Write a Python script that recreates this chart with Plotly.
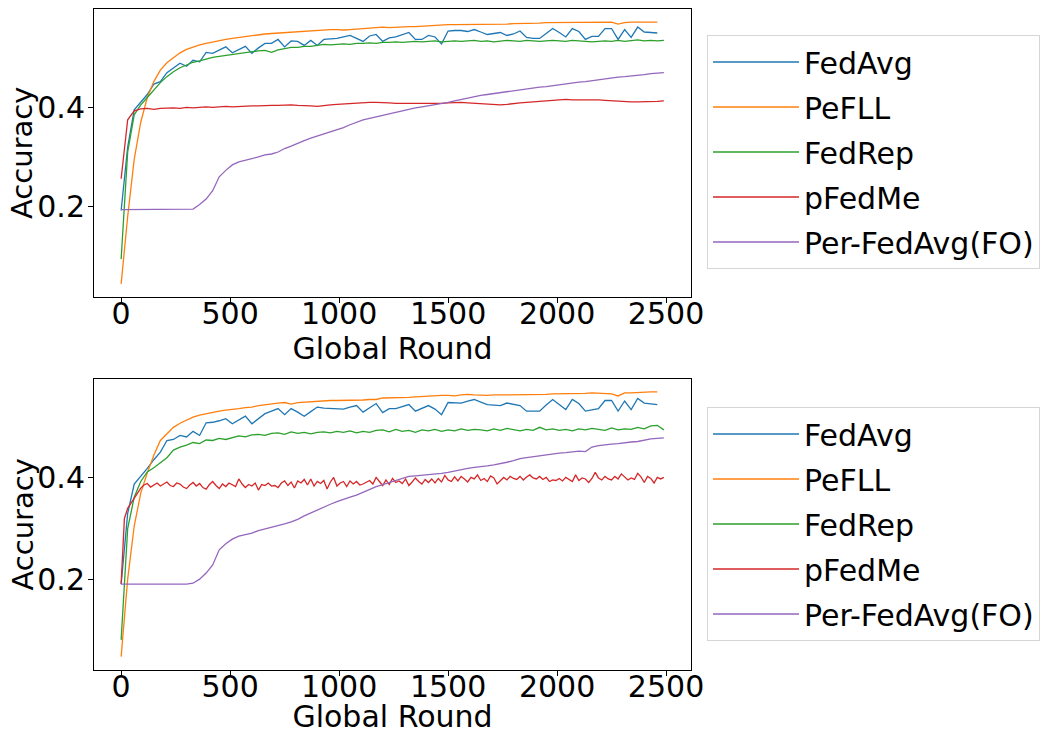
import plotly.graph_objects as go

# ---------------- data ----------------
methods = ["FedAvg", "PeFLL", "FedRep", "pFedMe", "Per-FedAvg(FO)"]
colors = ["#1f77b4", "#ff7f0e", "#2ca02c", "#d62728", "#9467bd"]

step_main = 30      # rounds between logged points
step_fine = 15      # rounds between logged points (pFedMe, bottom panel)

# ---- top panel ----
top_fedavg = [0.192, 0.32, 0.395, 0.41, 0.426, 0.447, 0.452, 0.47, 0.48, 0.489, 0.483, 0.495, 0.492, 0.511,
              0.509, 0.515, 0.522, 0.51, 0.516, 0.523, 0.509, 0.52, 0.529, 0.529, 0.537, 0.522, 0.534, 0.533,
              0.525, 0.535, 0.525, 0.537, 0.538, 0.539, 0.542, 0.545, 0.539, 0.533, 0.544, 0.547, 0.533, 0.54,
              0.542, 0.546, 0.551, 0.537, 0.537, 0.545, 0.542, 0.528, 0.554, 0.555, 0.555, 0.553, 0.557, 0.552,
              0.547, 0.549, 0.551, 0.545, 0.548, 0.554, 0.541, 0.539, 0.539, 0.549, 0.559, 0.551, 0.542, 0.559,
              0.553, 0.537, 0.543, 0.543, 0.559, 0.559, 0.537, 0.557, 0.541, 0.562, 0.552, 0.551, 0.55]
top_pefll = [0.044, 0.18, 0.295, 0.37, 0.42, 0.452, 0.475, 0.49, 0.5, 0.51, 0.517, 0.522, 0.526, 0.529, 0.532,
             0.535, 0.537, 0.539, 0.541, 0.543, 0.545, 0.546, 0.548, 0.549, 0.55, 0.551, 0.552, 0.553, 0.554,
             0.555, 0.556, 0.557, 0.557, 0.557, 0.556, 0.557, 0.558, 0.559, 0.56, 0.561, 0.562, 0.561, 0.562,
             0.563, 0.563, 0.563, 0.564, 0.565, 0.566, 0.566, 0.567, 0.567, 0.567, 0.567, 0.568, 0.567, 0.567,
             0.568, 0.568, 0.568, 0.569, 0.569, 0.569, 0.57, 0.57, 0.571, 0.571, 0.571, 0.571, 0.571, 0.571,
             0.571, 0.571, 0.571, 0.572, 0.572, 0.568, 0.571, 0.572, 0.572, 0.572, 0.572, 0.572]
top_fedrep = [0.094, 0.31, 0.385, 0.405, 0.42, 0.435, 0.45, 0.462, 0.472, 0.48, 0.486, 0.491, 0.494, 0.498,
              0.501, 0.503, 0.505, 0.507, 0.509, 0.511, 0.512, 0.514, 0.515, 0.511, 0.516, 0.518, 0.521, 0.521,
              0.523, 0.523, 0.525, 0.527, 0.526, 0.527, 0.528, 0.527, 0.529, 0.529, 0.53, 0.529, 0.531, 0.531,
              0.532, 0.531, 0.532, 0.533, 0.532, 0.533, 0.534, 0.532, 0.533, 0.534, 0.533, 0.534, 0.535, 0.533,
              0.534, 0.532, 0.534, 0.535, 0.534, 0.533, 0.535, 0.534, 0.533, 0.534, 0.535, 0.534, 0.533, 0.535,
              0.534, 0.533, 0.532, 0.533, 0.534, 0.533, 0.535, 0.533, 0.534, 0.536, 0.534, 0.535, 0.534, 0.535]
top_pfedme = [0.256, 0.375, 0.393, 0.397, 0.398, 0.396, 0.398, 0.399, 0.399, 0.398, 0.4, 0.399, 0.4, 0.401,
              0.4, 0.401, 0.402, 0.401, 0.402, 0.403, 0.403, 0.403, 0.404, 0.404, 0.404, 0.405, 0.405, 0.404,
              0.404, 0.403, 0.402, 0.404, 0.405, 0.406, 0.407, 0.408, 0.409, 0.41, 0.41, 0.41, 0.41, 0.409,
              0.408, 0.408, 0.407, 0.407, 0.407, 0.407, 0.408, 0.408, 0.409, 0.41, 0.41, 0.409, 0.408, 0.407,
              0.406, 0.405, 0.405, 0.406, 0.408, 0.409, 0.41, 0.411, 0.412, 0.413, 0.414, 0.415, 0.416, 0.415,
              0.415, 0.415, 0.416, 0.415, 0.414, 0.413, 0.412, 0.411, 0.411, 0.411, 0.411, 0.412, 0.412, 0.413]
top_perfedavg = [0.194, 0.194, 0.194, 0.194, 0.194, 0.194, 0.194, 0.194, 0.194, 0.194, 0.194, 0.195, 0.204,
                 0.215, 0.232, 0.26, 0.273, 0.284, 0.29, 0.293, 0.296, 0.3, 0.304, 0.306, 0.31, 0.317, 0.322,
                 0.328, 0.333, 0.338, 0.342, 0.346, 0.35, 0.355, 0.359, 0.365, 0.37, 0.375, 0.378, 0.381, 0.385,
                 0.388, 0.391, 0.394, 0.397, 0.399, 0.401, 0.403, 0.406, 0.408, 0.41, 0.413, 0.416, 0.419, 0.422,
                 0.424, 0.426, 0.428, 0.43, 0.432, 0.434, 0.436, 0.438, 0.439, 0.441, 0.442, 0.444, 0.446, 0.448,
                 0.449, 0.451, 0.452, 0.454, 0.456, 0.458, 0.46, 0.461, 0.462, 0.463, 0.464, 0.466, 0.468, 0.469,
                 0.47]

# ---- bottom panel ----
bot_fedavg = [0.19, 0.33, 0.388, 0.403, 0.419, 0.436, 0.451, 0.474, 0.476, 0.484, 0.481, 0.492, 0.484, 0.509,
              0.51, 0.513, 0.517, 0.507, 0.515, 0.522, 0.507, 0.517, 0.527, 0.532, 0.537, 0.525, 0.537, 0.53,
              0.522, 0.531, 0.54, 0.538, 0.537, 0.536, 0.536, 0.54, 0.543, 0.53, 0.539, 0.547, 0.529, 0.537,
              0.537, 0.541, 0.545, 0.532, 0.538, 0.543, 0.536, 0.525, 0.549, 0.548, 0.548, 0.552, 0.555, 0.55,
              0.545, 0.544, 0.543, 0.548, 0.546, 0.543, 0.532, 0.532, 0.532, 0.544, 0.555, 0.545, 0.535, 0.555,
              0.547, 0.532, 0.534, 0.537, 0.553, 0.553, 0.532, 0.552, 0.535, 0.557, 0.548, 0.546, 0.545]
bot_pefll = [0.047, 0.2, 0.305, 0.37, 0.41, 0.445, 0.474, 0.488, 0.5, 0.508, 0.514, 0.52, 0.524, 0.527, 0.53,
             0.532, 0.534, 0.535, 0.537, 0.539, 0.54, 0.543, 0.545, 0.546, 0.548, 0.549, 0.546, 0.549, 0.55,
             0.551, 0.552, 0.553, 0.553, 0.553, 0.553, 0.554, 0.553, 0.554, 0.555, 0.555, 0.558, 0.558, 0.558,
             0.559, 0.559, 0.56, 0.561, 0.561, 0.562, 0.563, 0.563, 0.562, 0.564, 0.565, 0.564, 0.563, 0.563,
             0.564, 0.564, 0.564, 0.564, 0.565, 0.565, 0.565, 0.565, 0.565, 0.566, 0.566, 0.566, 0.566, 0.567,
             0.567, 0.568, 0.567, 0.566, 0.566, 0.562, 0.568, 0.568, 0.569, 0.569, 0.57, 0.57]
bot_fedrep = [0.08, 0.3, 0.362, 0.393, 0.412, 0.42, 0.43, 0.44, 0.455, 0.461, 0.465, 0.47, 0.468, 0.475, 0.474,
              0.478, 0.476, 0.48, 0.483, 0.481, 0.485, 0.486, 0.484, 0.488, 0.489, 0.486, 0.491, 0.488, 0.49,
              0.487, 0.49, 0.491, 0.489, 0.492, 0.49, 0.493, 0.489, 0.492, 0.49, 0.494, 0.495, 0.491, 0.496,
              0.492, 0.494, 0.49, 0.495, 0.493, 0.496, 0.492, 0.495, 0.493, 0.497, 0.494, 0.496, 0.495, 0.493,
              0.497, 0.494, 0.498, 0.495, 0.493, 0.496, 0.494, 0.5, 0.495, 0.497, 0.494, 0.496, 0.493, 0.497,
              0.495, 0.498, 0.496, 0.494, 0.499, 0.495, 0.497, 0.496, 0.5, 0.497, 0.503, 0.504, 0.495]
bot_pfedme = [0.191, 0.32, 0.34, 0.35, 0.36, 0.372, 0.38, 0.386, 0.389, 0.382, 0.386, 0.39, 0.384, 0.388, 0.392,
              0.385, 0.383, 0.39, 0.388, 0.382, 0.379, 0.386, 0.391, 0.384, 0.389, 0.381, 0.378, 0.387, 0.393,
              0.385, 0.379, 0.388, 0.383, 0.39, 0.386, 0.383, 0.398, 0.388, 0.381, 0.387, 0.384, 0.39, 0.376,
              0.387, 0.385, 0.39, 0.384, 0.385, 0.381, 0.39, 0.394, 0.385, 0.392, 0.38, 0.394, 0.39, 0.397,
              0.386, 0.398, 0.384, 0.393, 0.389, 0.395, 0.378, 0.392, 0.401, 0.384, 0.39, 0.393, 0.383, 0.394,
              0.388, 0.393, 0.386, 0.388, 0.392, 0.395, 0.388, 0.401, 0.393, 0.385, 0.396, 0.387, 0.399, 0.391,
              0.394, 0.389, 0.398, 0.385, 0.392, 0.4, 0.393, 0.388, 0.397, 0.391, 0.398, 0.39, 0.399, 0.392,
              0.405, 0.396, 0.393, 0.402, 0.394, 0.403, 0.398, 0.392, 0.401, 0.398, 0.406, 0.395, 0.399, 0.393,
              0.404, 0.4, 0.388, 0.395, 0.401, 0.396, 0.403, 0.399, 0.397, 0.403, 0.396, 0.402, 0.406, 0.4,
              0.398, 0.403, 0.397, 0.401, 0.393, 0.396, 0.395, 0.399, 0.394, 0.401, 0.397, 0.393, 0.406, 0.395,
              0.4, 0.398, 0.391, 0.399, 0.411, 0.4, 0.396, 0.403, 0.398, 0.396, 0.403, 0.398, 0.408, 0.401,
              0.396, 0.4, 0.397, 0.409, 0.402, 0.391, 0.403, 0.399, 0.39, 0.401, 0.398, 0.401]
bot_perfedavg = [0.19, 0.19, 0.19, 0.19, 0.19, 0.19, 0.19, 0.19, 0.19, 0.19, 0.19, 0.192, 0.2, 0.212, 0.228,
                 0.258, 0.27, 0.279, 0.285, 0.288, 0.291, 0.296, 0.299, 0.302, 0.306, 0.309, 0.313, 0.318,
                 0.325, 0.331, 0.337, 0.343, 0.348, 0.353, 0.358, 0.362, 0.366, 0.372, 0.378, 0.383, 0.387,
                 0.391, 0.394, 0.399, 0.403, 0.404, 0.405, 0.406, 0.407, 0.409, 0.411, 0.414, 0.417, 0.419,
                 0.421, 0.422, 0.424, 0.426, 0.428, 0.431, 0.434, 0.438, 0.44, 0.442, 0.444, 0.446, 0.448,
                 0.449, 0.45, 0.452, 0.453, 0.452, 0.461, 0.464, 0.466, 0.467, 0.468, 0.47, 0.471, 0.472, 0.475,
                 0.477, 0.478, 0.479]

x_ticks = [0, 500, 1000, 1500, 2000, 2500]
y_ticks = [0.2, 0.4]
x_title = "Global Round"
y_title = "Accuracy"

panels = [
    ([top_fedavg, top_pefll, top_fedrep, top_pfedme, top_perfedavg],
     [step_main, step_main, step_main, step_main, step_main]),
    ([bot_fedavg, bot_pefll, bot_fedrep, bot_pfedme, bot_perfedavg],
     [step_main, step_main, step_main, step_fine, step_main]),
]

# ---------------- figure ----------------
# page body has an 8px margin, so the figure is laid out in (page - 8) pixels
OFF = 8
W, H = 1051 - OFF, 734 - OFF
L, R, T, B = 94 - OFF, 1051 - 691, 1, 734 - 670
ph = H - T - B
pw = W - L - R

def fy(py):  # page pixel y -> paper fraction
    return (H - B - (py - OFF)) / ph

def fx(px):
    return (px - OFF - L) / pw

FONT = "DejaVu Sans"
fig = go.Figure()

for p, (series, steps) in enumerate(panels):
    xa = "x" if p == 0 else "x2"
    ya = "y" if p == 0 else "y2"
    lg = "legend" if p == 0 else "legend2"
    for i, (name, vals, st) in enumerate(zip(methods, series, steps)):
        fig.add_trace(go.Scatter(
            x=[k * st for k in range(len(vals))], y=vals, mode="lines", name=name,
            line=dict(color=colors[i], width=1.3), xaxis=xa, yaxis=ya, legend=lg,
            legendgroup=f"{p}-{i}",
        ))

axis_common = dict(
    showline=True, linecolor="black", linewidth=1, mirror=True,
    ticks="outside", ticklen=5, tickwidth=1, tickcolor="black",
    showgrid=False, zeroline=False, automargin=False,
    tickfont=dict(family=FONT, size=30, color="black"),
)

legend_common = dict(
    font=dict(family=FONT, size=30, color="black"),
    bgcolor="white", bordercolor="#d6d6d6", borderwidth=1,
    xanchor="left", yanchor="top", tracegroupgap=3, traceorder="grouped",
    itemwidth=86,
)

xt = dict(text=x_title, font=dict(family=FONT, size=30), standoff=0)

top_dom = [fy(297), 1]
bot_dom = [0, fy(379)]

fig.update_layout(
    width=W, height=H, margin=dict(l=L, r=R, t=T, b=B, autoexpand=False),
    plot_bgcolor="white", paper_bgcolor="white",
    font=dict(family=FONT, color="black"),
    xaxis=dict(domain=[0, 1], anchor="y", range=[-124.5, 2614.5], tickvals=x_ticks,
               ticklabelstandoff=-15, title=xt, **axis_common),
    yaxis=dict(domain=top_dom, anchor="x", range=[0.0176, 0.5984], tickvals=y_ticks,
               tickformat=".1f", ticklabelstandoff=-3, **axis_common),
    xaxis2=dict(domain=[0, 1], anchor="y2", range=[-124.5, 2614.5], tickvals=x_ticks,
                ticklabelstandoff=-15, title=xt, **axis_common),
    yaxis2=dict(domain=bot_dom, anchor="x2", range=[0.0205, 0.5955], tickvals=y_ticks,
                tickformat=".1f", ticklabelstandoff=-3, **axis_common),
    legend=dict(x=fx(707), y=fy(35), **legend_common),
    legend2=dict(x=fx(707), y=fy(407), **legend_common),
)

# y-axis titles placed as rotated text left of the tick labels
for dom in (top_dom, bot_dom):
    fig.add_annotation(
        text=y_title, textangle=-90, xref="paper", yref="paper",
        x=fx(22), y=(dom[0] + dom[1]) / 2, xanchor="center", yanchor="middle",
        showarrow=False, borderpad=0, font=dict(family=FONT, size=29, color="black"),
    )

fig.write_html("out.html")
